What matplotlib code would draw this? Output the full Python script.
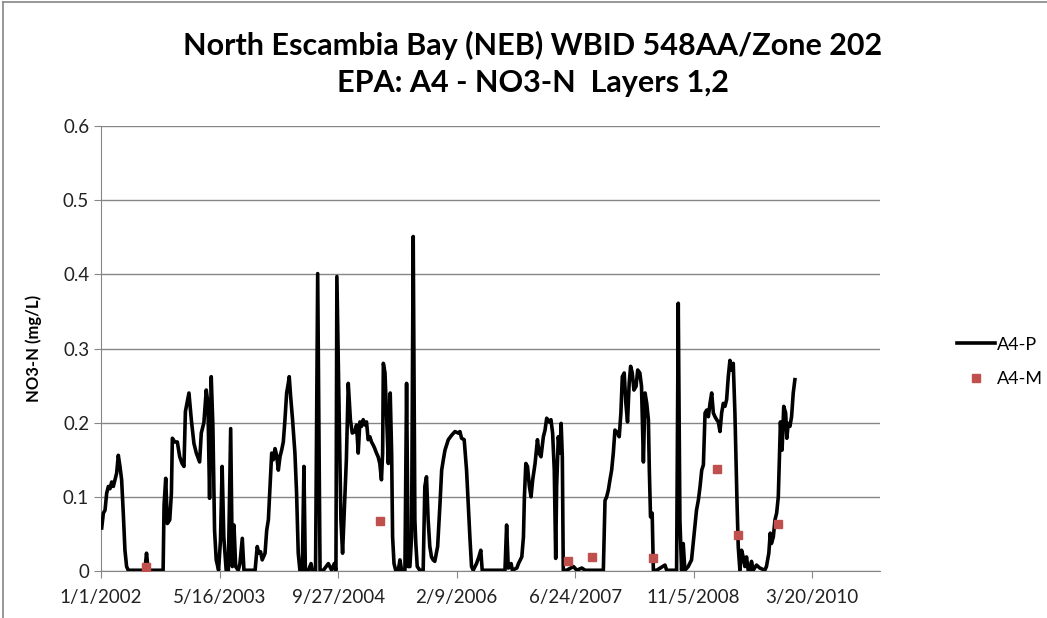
import numpy as np
import matplotlib
matplotlib.use("Agg")
import matplotlib.pyplot as plt
from matplotlib.lines import Line2D

plt.rcParams['font.family'] = ['Lato', 'DejaVu Sans']

# Dados: dias desde 1/1/2002 e NO3-N (mg/L)
inicio = np.datetime64('2002-01-01')

dias_p = [3, 10, 17, 24, 31, 38, 45, 52, 59, 66, 73, 80, 87, 94, 101, 108, 115, 185, 192, 199,
          262, 266, 273, 280, 290, 297, 301, 311, 322, 332, 342, 350, 356, 371, 381, 392, 402, 416,
          423, 434, 444, 451, 458, 465, 472, 479, 486, 496, 504, 511, 518, 528,
          537, 547, 554, 561, 568, 579, 586, 596, 603, 621, 650, 659, 666, 673, 680, 692, 699, 706,
          713, 720, 727, 734, 741, 748, 755, 762, 769, 776, 783, 790, 794, 800, 808, 818, 825, 832,
          839, 849, 856, 862, 875, 886, 891, 905, 914, 924, 938, 959, 973, 984, 991, 995, 1005,
          1012, 1019, 1026, 1035, 1043, 1052, 1060, 1071, 1078,
          1085, 1092, 1099, 1106, 1113, 1120, 1127, 1134, 1141, 1148, 1155, 1162, 1169, 1176, 1183,
          1188, 1191, 1198, 1205, 1212, 1216, 1220, 1226, 1230, 1236, 1243, 1254, 1261, 1268, 1282,
          1289, 1296, 1303, 1310, 1317, 1324, 1328, 1334, 1345, 1359, 1366, 1373, 1380, 1387, 1394,
          1401, 1408, 1420, 1430, 1437, 1444, 1451, 1465, 1479, 1493, 1507, 1514, 1521, 1532, 1542,
          1549, 1556, 1563, 1570, 1584, 1594, 1602, 1608,
          1620, 1704, 1711, 1718, 1725, 1730, 1735, 1754, 1761, 1775, 1782, 1786, 1792, 1799, 1807,
          1814, 1821, 1831, 1841, 1848, 1856, 1866, 1873, 1880, 1890, 1898, 1905, 1912, 1918, 1922,
          1929, 1936, 1941, 1946, 1950, 1964, 1993, 2007, 2028, 2042, 2119, 2126, 2133, 2140, 2147,
          2154, 2161, 2168,
          2179, 2186, 2193, 2199, 2207, 2214, 2221, 2228, 2234, 2241, 2248, 2257, 2264, 2273, 2280,
          2288, 2295, 2302, 2309, 2313, 2318, 2325, 2330, 2344, 2379, 2386, 2428, 2435, 2442, 2449,
          2456, 2463, 2477, 2491, 2498, 2505, 2512, 2520, 2527, 2534, 2541, 2548, 2555, 2562, 2569,
          2576, 2583, 2590, 2597, 2604, 2611, 2618, 2625, 2632, 2639, 2646, 2653, 2660, 2667, 2674,
          2678, 2683, 2688, 2695, 2702, 2709, 2716, 2723, 2730,
          2737, 2744, 2751, 2765, 2779, 2800, 2807, 2817, 2823, 2828, 2836, 2843, 2850, 2857, 2862,
          2866, 2873, 2880, 2888, 2893, 2899, 2906, 2913, 2920, 2927]

no3_p = [0.058, 0.078, 0.082, 0.105, 0.114, 0.111, 0.120, 0.114, 0.123, 0.132, 0.156, 0.141, 0.123,
         0.078, 0.028, 0.006, 0.001, 0.001, 0.024, 0.001, 0.001, 0.089, 0.125, 0.064, 0.069, 0.105,
         0.179, 0.174, 0.174, 0.154, 0.145, 0.141, 0.215, 0.240, 0.204, 0.172, 0.159, 0.147, 0.186,
         0.200, 0.244, 0.226, 0.098, 0.262, 0.195, 0.055, 0.015, 0.001, 0.042, 0.141, 0.046, 0.001,
         0.001, 0.192, 0.006, 0.062, 0.006, 0.001, 0.010, 0.044, 0.001, 0.001, 0.001, 0.033, 0.024,
         0.026, 0.015, 0.024, 0.055, 0.069, 0.114, 0.159, 0.150, 0.165, 0.156, 0.136, 0.154, 0.163,
         0.174, 0.204, 0.240, 0.253, 0.262, 0.235, 0.204, 0.159, 0.105, 0.024, 0.001, 0.001, 0.141,
         0.001, 0.001, 0.010, 0.001, 0.001, 0.401, 0.001, 0.001, 0.010, 0.001, 0.010, 0.001, 0.397,
         0.204, 0.069, 0.024, 0.078, 0.150, 0.253, 0.204, 0.186, 0.188, 0.197,
         0.159, 0.201, 0.195, 0.204, 0.197, 0.201, 0.177, 0.181, 0.174, 0.170, 0.165, 0.159, 0.154,
         0.145, 0.123, 0.159, 0.280, 0.267, 0.204, 0.145, 0.204, 0.240, 0.159, 0.046, 0.010, 0.001,
         0.001, 0.015, 0.001, 0.001, 0.253, 0.006, 0.006, 0.046, 0.451, 0.069, 0.037, 0.006, 0.001,
         0.001, 0.114, 0.127, 0.069, 0.033, 0.019, 0.015, 0.013, 0.033, 0.091, 0.136, 0.150, 0.163,
         0.177, 0.183, 0.188, 0.186, 0.188, 0.179, 0.177, 0.136, 0.091, 0.046, 0.006, 0.001, 0.010,
         0.019, 0.028, 0.001,
         0.001, 0.001, 0.062, 0.004, 0.006, 0.010, 0.001, 0.004, 0.010, 0.019, 0.046, 0.100, 0.145,
         0.141, 0.114, 0.100, 0.123, 0.145, 0.177, 0.159, 0.154, 0.181, 0.190, 0.206, 0.201, 0.204,
         0.186, 0.136, 0.017, 0.114, 0.181, 0.159, 0.199, 0.154, 0.001, 0.001, 0.006, 0.001, 0.004,
         0.001, 0.001, 0.095, 0.100, 0.109, 0.123, 0.136, 0.159, 0.190,
         0.186, 0.181, 0.213, 0.262, 0.267, 0.226, 0.201, 0.253, 0.276, 0.267, 0.244, 0.249, 0.271,
         0.267, 0.249, 0.147, 0.240, 0.226, 0.204, 0.136, 0.073, 0.078, 0.001, 0.001, 0.008, 0.001,
         0.001, 0.361, 0.069, 0.001, 0.037, 0.001, 0.006, 0.015, 0.037, 0.060, 0.082, 0.096, 0.114,
         0.136, 0.143, 0.213, 0.217, 0.208, 0.226, 0.240, 0.213, 0.208, 0.204, 0.201, 0.188, 0.213,
         0.226, 0.222, 0.231, 0.262, 0.284, 0.271, 0.280, 0.213, 0.159, 0.091, 0.033, 0.001, 0.028,
         0.019, 0.006, 0.019, 0.001,
         0.001, 0.013, 0.001, 0.008, 0.004, 0.001, 0.006, 0.024, 0.051, 0.037, 0.046, 0.069, 0.078,
         0.100, 0.159, 0.201, 0.163, 0.222, 0.213, 0.179, 0.199, 0.195, 0.208, 0.240, 0.258]

dias_m = [189, 1176, 1972, 2070, 2327, 2597, 2685, 2854]
no3_m = [0.005, 0.068, 0.013, 0.019, 0.017, 0.138, 0.049, 0.063]

rotulos_x = ['1/1/2002', '5/16/2003', '9/27/2004', '2/9/2006', '6/24/2007', '11/5/2008', '3/20/2010']
dias_ticks = [0, 500, 1000, 1500, 2000, 2500, 3000]

datas_p = inicio + np.array(dias_p).astype('timedelta64[D]')
datas_m = inicio + np.array(dias_m).astype('timedelta64[D]')
datas_ticks = inicio + np.array(dias_ticks).astype('timedelta64[D]')

cinza = '#868686'

fig = plt.figure(figsize=(10.47, 6.18), dpi=100)
ax = fig.add_axes([101 / 1047, 47 / 618, 779 / 1047, 445 / 618])

ax.plot(datas_p, no3_p, color='black', lw=2.6, label='A4-P', zorder=3)
ax.plot(datas_m, no3_m, ls='none', marker='s', ms=6, color='#C0504D', label='A4-M', zorder=4)

ax.set_xlim(np.datetime64('2002-01-01'), np.datetime64('2010-12-31'))
ax.set_ylim(0, 0.6)
ax.set_yticks([0, 0.1, 0.2, 0.3, 0.4, 0.5, 0.6])
ax.set_yticklabels(['0', '0.1', '0.2', '0.3', '0.4', '0.5', '0.6'])
ax.set_xticks(datas_ticks)
ax.set_xticklabels(rotulos_x)
ax.grid(axis='y', color=cinza, lw=1)
ax.set_axisbelow(True)
for s in ['top', 'right']:
    ax.spines[s].set_visible(False)
for s in ['left', 'bottom']:
    ax.spines[s].set_color(cinza)
ax.tick_params(axis='both', colors=cinza, labelcolor='#222222', labelsize=13.5, length=5)
ax.tick_params(axis='x', pad=8)
ax.set_ylabel('NO3-N (mg/L)', fontsize=12, fontweight='bold', labelpad=15)

fig.text(533 / 1047, 1 - 45 / 618, 'North Escambia Bay (NEB) WBID 548AA/Zone 202',
         ha='center', va='center', fontsize=22, fontweight='bold')
fig.text(533 / 1047, 1 - 83 / 618, 'EPA: A4 - NO3-N  Layers 1,2',
         ha='center', va='center', fontsize=22, fontweight='bold')

fig.legend(loc='center left', bbox_to_anchor=(941 / 1047, 1 - 362 / 618), frameon=False,
           fontsize=13, handlelength=2.1, labelspacing=1.05, handletextpad=0.1, borderpad=0.4)

# moldura do gráfico
fig.add_artist(Line2D([3 / 1047, 3 / 1047], [0, 1 - 2 / 618], color=cinza, lw=1.2))
fig.add_artist(Line2D([3 / 1047, 1], [1 - 2 / 618, 1 - 2 / 618], color=cinza, lw=1.2))

fig.savefig('out.png', dpi=100)
